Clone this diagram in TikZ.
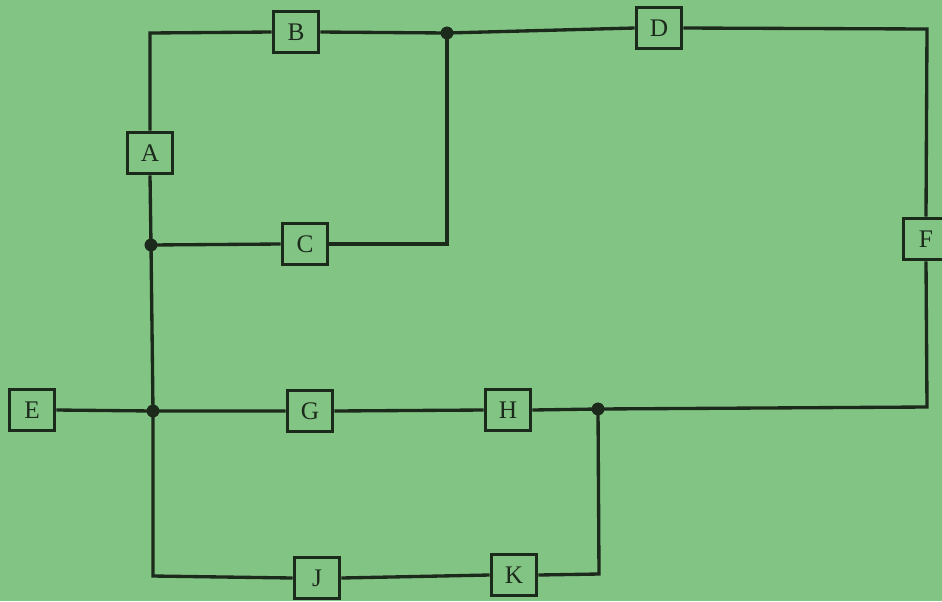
\documentclass[tikz,border=0pt]{standalone}
\usepackage{fontspec}
\setmainfont{Liberation Serif}
\definecolor{bg}{HTML}{82C484}
\definecolor{ink}{HTML}{1C2A1C}
\begin{document}
\begin{tikzpicture}[x=0.75pt,y=-0.75pt,
  wire/.style={draw=ink,line width=2.5pt},
  box/.style={draw=ink,line width=2.5pt,rectangle,minimum width=34pt,minimum height=31pt,inner sep=0pt,font=\fontsize{19}{20}\selectfont,text=ink,fill=bg},
  dot/.style={circle,fill=ink,minimum size=9.5pt,inner sep=0pt}]
\path[use as bounding box,fill=bg] (0,0) rectangle (942,601);
\begin{scope}
\clip (0,0) rectangle (942,601);
% junctions and corners
\coordinate (tlc) at (150,33);
\coordinate (trc) at (927,29);
\coordinate (brc) at (927,407);
\coordinate (cr) at (447,244);
\coordinate (blc) at (153,576);
\coordinate (krc) at (599,574);
\node[dot] (j1) at (447,33) {};
\node[dot] (j2) at (151,245) {};
\node[dot] (j3) at (153,411) {};
\node[dot] (j4) at (598,409) {};
% boxes
\node[box] (A) at (150,153) {A};
\node[box] (B) at (296,32) {B};
\node[box] (C) at (305,244) {C};
\node[box] (D) at (659,28) {D};
\node[box] (E) at (32,410) {E};
\node[box] (F) at (926,239) {F};
\node[box] (G) at (310,411) {G};
\node[box] (H) at (508,410) {H};
\node[box] (J) at (317,578) {J};
\node[box] (K) at (514,575) {K};
% wires
\path[wire] (A.north) -- (tlc) -- (B.west);
\path[wire] (B.east) -- (j1.center);
\path[wire] (j1.center) -- (D.west);
\path[wire] (D.east) -- (trc) -- (F.north);
\path[wire] (F.south) -- (brc) -- (j4.center);
\path[wire] (j1.center) -- (cr) -- (C.east);
\path[wire] (C.west) -- (j2.center);
\path[wire] (A.south) -- (j2.center) -- (j3.center) -- (blc) -- (J.west);
\path[wire] (E.east) -- (j3.center) -- (G.west);
\path[wire] (G.east) -- (H.west);
\path[wire] (H.east) -- (j4.center);
\path[wire] (J.east) -- (K.west);
\path[wire] (K.east) -- (krc) -- (j4.center);
% redraw dots on top
\node[dot] at (j1) {};
\node[dot] at (j2) {};
\node[dot] at (j3) {};
\node[dot] at (j4) {};
\end{scope}
\end{tikzpicture}
\end{document}
